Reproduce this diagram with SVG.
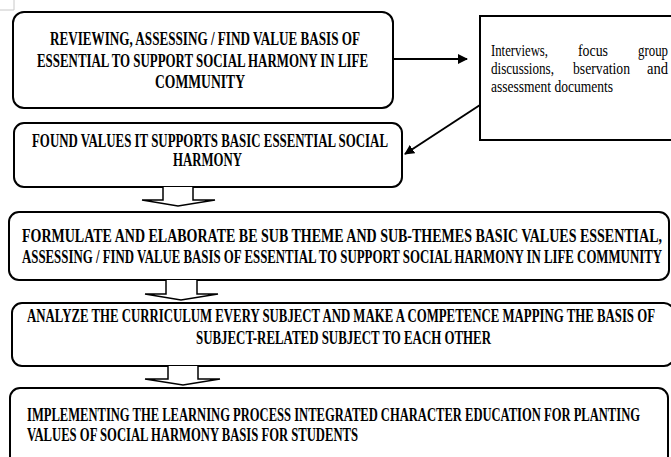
<svg xmlns="http://www.w3.org/2000/svg" width="671" height="457" viewBox="0 0 671 457">
<style>
.box{fill:#fff;stroke:#000;stroke-width:2}
.t{font-family:"Liberation Serif","DejaVu Serif",serif;font-weight:bold;font-size:19.5px;fill:#000}
.n{font-family:"Liberation Serif","DejaVu Serif",serif;font-size:16px;fill:#000}
.c{stroke:#000;stroke-width:2;fill:none}
.blk{fill:#fff;stroke:#000;stroke-width:1.5;stroke-linejoin:miter}
</style>
<defs>
<marker id="ah" viewBox="0 0 10 10" refX="9" refY="5" markerWidth="5" markerHeight="5" orient="auto" markerUnits="strokeWidth">
<path d="M0,0 L10,5 L0,10 z" fill="#000"/>
</marker>
</defs>
<rect width="671" height="457" fill="#fff"/>
<path d="M14,0 V10 H0" stroke="#c8c8c8" stroke-width="1" fill="none"/>
<g id="node1">
<rect class="box" x="13" y="12" width="380" height="96" rx="11"/>
<text class="t" x="50" y="45" textLength="310" lengthAdjust="spacingAndGlyphs">REVIEWING, ASSESSING / FIND VALUE BASIS OF</text>
<text class="t" x="37" y="67" textLength="331" lengthAdjust="spacingAndGlyphs">ESSENTIAL TO SUPPORT SOCIAL HARMONY IN LIFE</text>
<text class="t" x="155" y="88" textLength="90" lengthAdjust="spacingAndGlyphs">COMMUNITY</text>
</g>
<g id="node-sources">
<rect class="box" x="480" y="16" width="200" height="124"/>
<text class="n" x="491" y="56" textLength="57" lengthAdjust="spacingAndGlyphs">Interviews,</text>
<text class="n" x="578" y="56" textLength="30" lengthAdjust="spacingAndGlyphs">focus</text>
<text class="n" x="638" y="56" textLength="30" lengthAdjust="spacingAndGlyphs">group</text>
<text class="n" x="491" y="74" textLength="63" lengthAdjust="spacingAndGlyphs">discussions,</text>
<text class="n" x="573" y="74" textLength="57" lengthAdjust="spacingAndGlyphs">bservation</text>
<text class="n" x="647" y="74" textLength="21" lengthAdjust="spacingAndGlyphs">and</text>
<text class="n" x="491" y="92" textLength="122" lengthAdjust="spacingAndGlyphs">assessment documents</text>
</g>
<g id="node2">
<rect class="box" x="14" y="123" width="388" height="64" rx="10"/>
<text class="t" x="32" y="147" textLength="356" lengthAdjust="spacingAndGlyphs">FOUND VALUES IT SUPPORTS BASIC ESSENTIAL SOCIAL</text>
<text class="t" x="173" y="166" textLength="69" lengthAdjust="spacingAndGlyphs">HARMONY</text>
</g>
<g id="node3">
<rect class="box" x="9" y="212" width="660" height="68" rx="10"/>
<text class="t" x="22" y="242" textLength="640" lengthAdjust="spacingAndGlyphs">FORMULATE AND ELABORATE BE SUB THEME AND SUB-THEMES BASIC VALUES ESSENTIAL,</text>
<text class="t" x="22" y="263" textLength="640" lengthAdjust="spacingAndGlyphs">ASSESSING / FIND VALUE BASIS OF ESSENTIAL TO SUPPORT SOCIAL HARMONY IN LIFE COMMUNITY</text>
</g>
<g id="node4">
<rect class="box" x="12" y="303" width="662" height="63" rx="10"/>
<text class="t" x="27" y="322" textLength="628" lengthAdjust="spacingAndGlyphs">ANALYZE THE CURRICULUM EVERY SUBJECT AND MAKE A COMPETENCE MAPPING THE BASIS OF</text>
<text class="t" x="196" y="344" textLength="295" lengthAdjust="spacingAndGlyphs">SUBJECT-RELATED SUBJECT TO EACH OTHER</text>
</g>
<g id="node5">
<rect class="box" x="10" y="388" width="658" height="80" rx="10"/>
<text class="t" x="27" y="421" textLength="613" lengthAdjust="spacingAndGlyphs">IMPLEMENTING THE LEARNING PROCESS INTEGRATED CHARACTER EDUCATION FOR PLANTING</text>
<text class="t" x="27" y="441" textLength="331" lengthAdjust="spacingAndGlyphs">VALUES OF SOCIAL HARMONY BASIS FOR STUDENTS</text>
</g>
<g id="connectors">
<line class="c" x1="393" y1="59" x2="467" y2="59" marker-end="url(#ah)"/>
<line class="c" x1="480" y1="105" x2="405" y2="154" marker-end="url(#ah)"/>
<path class="blk" d="M163,187 V200 H142 L178,206 L215,200 H193 V187"/>
<path class="blk" d="M166,280 V294 H145 L181,300 L218,294 H197 V280"/>
<path class="blk" d="M168,366 V379 H145 L183,385 L220,379 H198 V366"/>
</g>
</svg>
